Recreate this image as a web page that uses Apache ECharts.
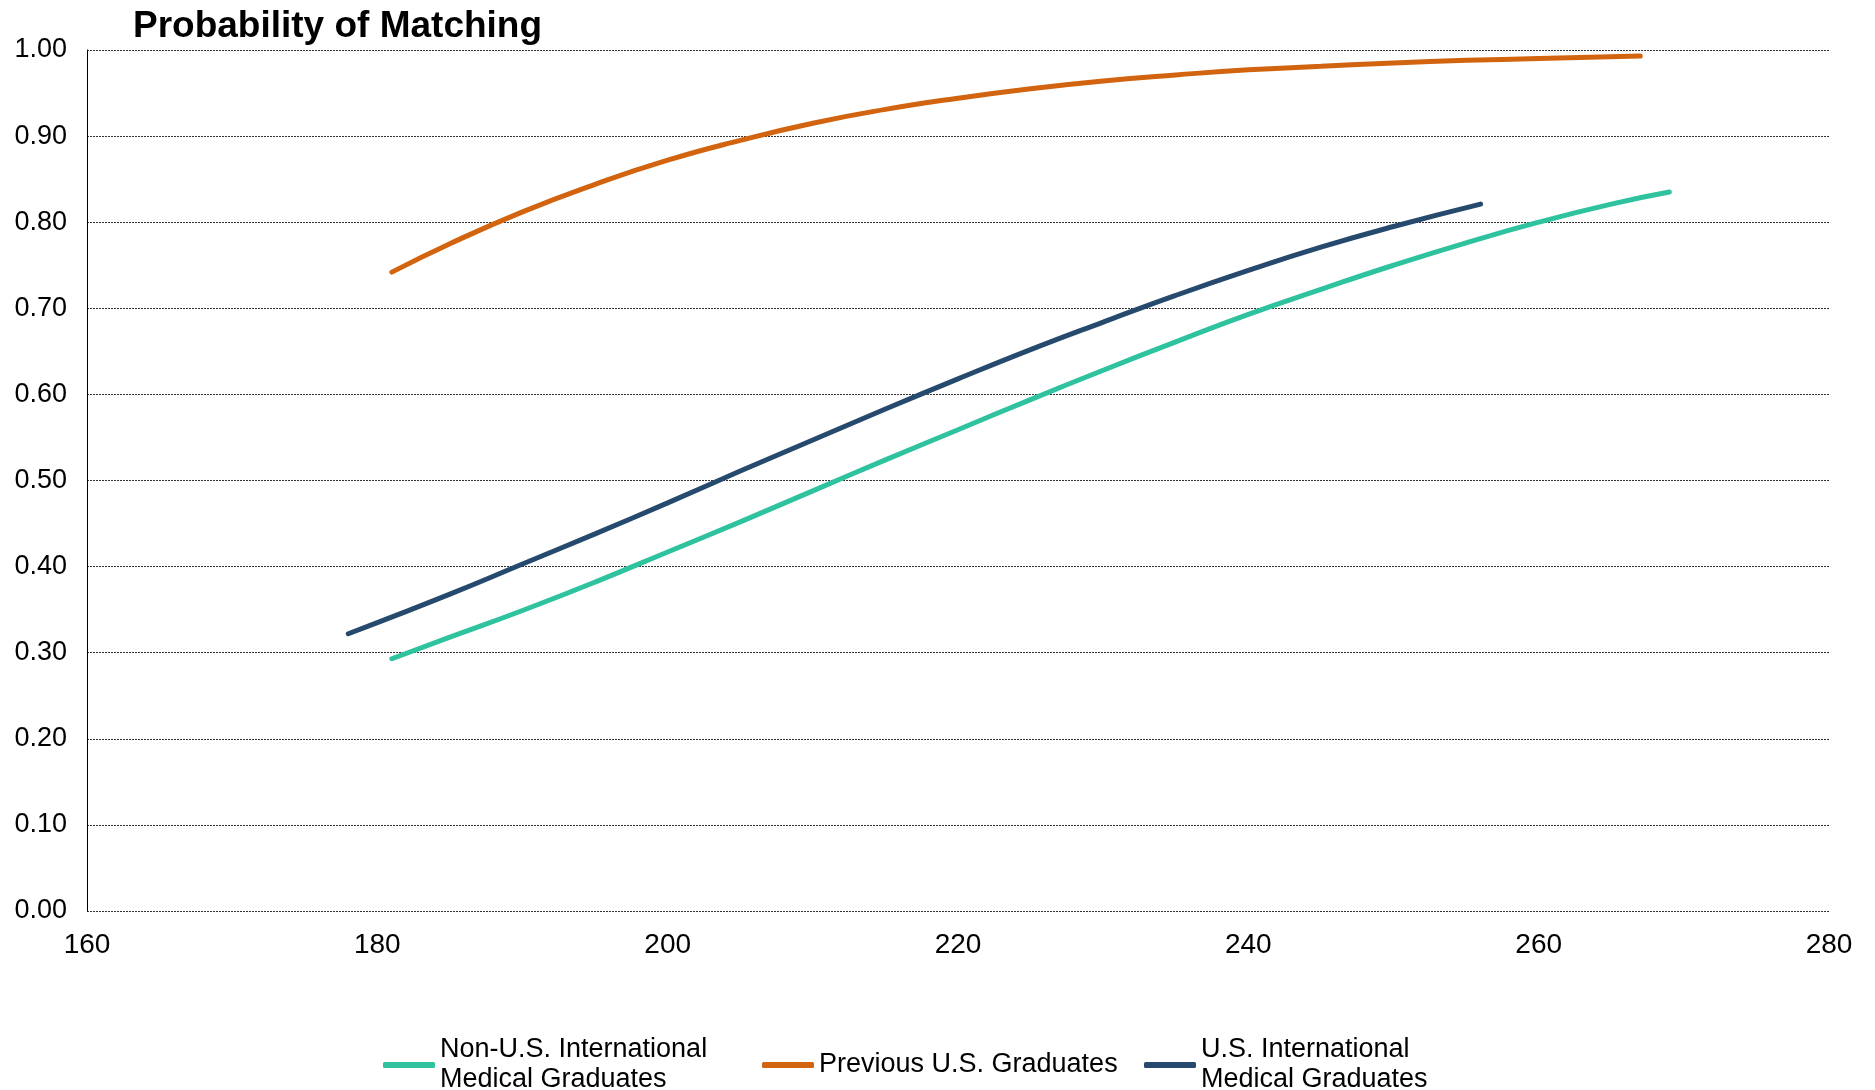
<!DOCTYPE html>
<html>
<head>
<meta charset="utf-8">
<script src="https://cdn.jsdelivr.net/npm/echarts@6/dist/echarts.min.js"></script>
<style>
  html, body { margin: 0; padding: 0; background: #fff; }
  #main { width: 1875px; height: 1090px; }
</style>
</head>
<body>
<div id="main"></div>
<script>
// scores (x) and probabilities (y)
var nonUsX = [181, 185, 190, 195, 200, 205, 210, 215, 220, 225, 230, 235, 240, 245, 250, 255, 260, 265, 269];
var nonUsY = [0.293, 0.318, 0.349, 0.382, 0.417, 0.452, 0.488, 0.524, 0.559, 0.594, 0.628, 0.661, 0.693, 0.722, 0.750, 0.776, 0.800, 0.821, 0.835];

var prevX = [181, 185, 190, 195, 200, 205, 210, 215, 220, 225, 230, 235, 240, 245, 250, 255, 260, 267];
var prevY = [0.742, 0.775, 0.812, 0.844, 0.872, 0.895, 0.915, 0.931, 0.944, 0.955, 0.964, 0.971, 0.977, 0.981, 0.985, 0.988, 0.990, 0.993];

var usX = [178, 180, 185, 190, 195, 200, 205, 210, 215, 220, 225, 230, 235, 240, 245, 250, 256];
var usY = [0.322, 0.335, 0.368, 0.403, 0.438, 0.474, 0.511, 0.547, 0.583, 0.618, 0.652, 0.684, 0.715, 0.744, 0.771, 0.795, 0.821];

var names = ['Non-U.S. International\nMedical Graduates', 'Previous U.S. Graduates', 'U.S. International\nMedical Graduates'];
var colors = ['#2FC29E', '#D2640F', '#264A6E'];

function pairs(xs, ys) {
    var out = [];
    for (var i = 0; i < xs.length; i++) out.push([xs[i], ys[i]]);
    return out;
}

var font = 'Liberation Sans, Arial, sans-serif';

function mkSeries(name, color, xs, ys) {
    return {
        name: name,
        type: 'line',
        smooth: true,
        symbol: 'none',
        data: pairs(xs, ys),
        lineStyle: { color: color, width: 5, cap: 'round' },
        itemStyle: { color: color }
    };
}

function mkLegend(name, left, top) {
    return {
        data: [name],
        left: left,
        top: top,
        icon: 'roundRect',
        itemWidth: 52,
        itemHeight: 6,
        textStyle: { fontFamily: font, fontSize: 27, lineHeight: 30, color: '#000' }
    };
}

var chart = echarts.init(document.getElementById('main'));
var option = {
    animation: false,
    backgroundColor: '#fff',
    title: {
        text: 'Probability of Matching',
        left: 128,
        top: 3,
        textStyle: { fontFamily: font, fontSize: 37, fontWeight: 'bold', color: '#000' }
    },
    legend: [
        mkLegend(names[0], 378, 1030),
        mkLegend(names[1], 757, 1045),
        mkLegend(names[2], 1139, 1030)
    ],
    grid: { left: 87, right: 46, top: 50, bottom: 179, containLabel: false },
    xAxis: {
        type: 'value',
        min: 160,
        max: 280,
        interval: 20,
        axisLine: { show: false },
        axisTick: { show: false },
        splitLine: { show: false },
        axisLabel: { fontFamily: font, fontSize: 28, color: '#000', margin: 20 }
    },
    yAxis: {
        type: 'value',
        min: 0,
        max: 1,
        interval: 0.1,
        axisLine: { show: true, lineStyle: { color: '#000', width: 1 } },
        axisTick: { show: false },
        splitLine: { show: true, lineStyle: { color: '#333', width: 1, type: [2, 1] } },
        axisLabel: {
            fontFamily: font, fontSize: 27, color: '#000', margin: 20,
            formatter: function (v) { return v.toFixed(2); }
        }
    },
    series: [
        mkSeries(names[0], colors[0], nonUsX, nonUsY),
        mkSeries(names[1], colors[1], prevX, prevY),
        mkSeries(names[2], colors[2], usX, usY)
    ]
};
chart.setOption(option);
</script>
</body>
</html>
